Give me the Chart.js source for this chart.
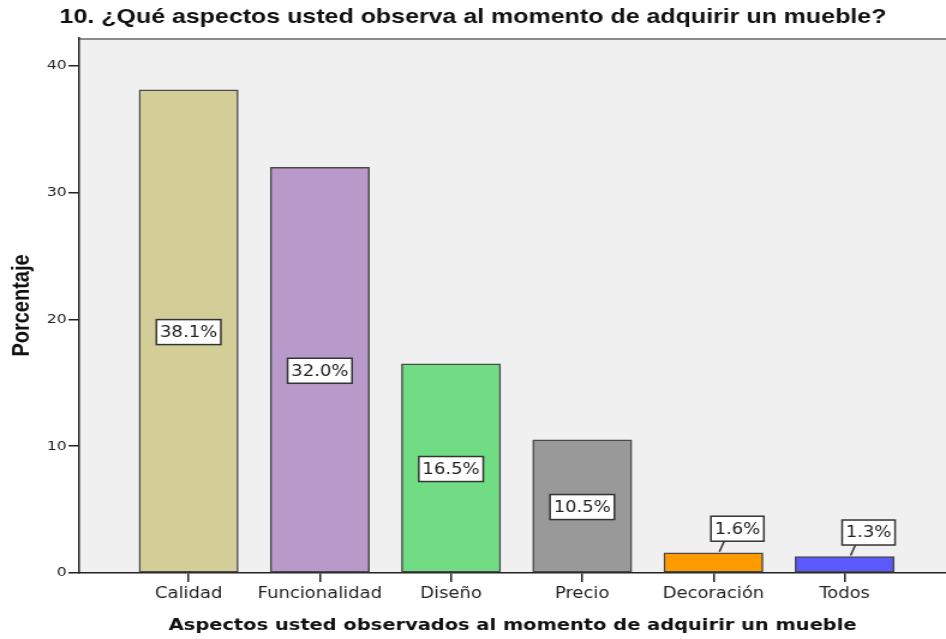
<!DOCTYPE html>
<html>
<head>
<meta charset="utf-8">
<script src="https://cdn.jsdelivr.net/npm/chart.js@4.4.1/dist/chart.umd.min.js"></script>
<style>
  html, body { margin: 0; padding: 0; background: #fff; overflow: hidden; }
  /* the source export is stretched horizontally by about 1.2, so draw narrow and stretch */
  #wrap { width: 788px; height: 639px; transform: scaleX(1.2005); transform-origin: 0 0; }
</style>
</head>
<body>
<div id="wrap"><canvas id="chart"></canvas></div>
<script>
// ---------- //
//  DATA      //
// ---------- //
var categories = ["Calidad", "Funcionalidad", "Diseño", "Precio", "Decoración", "Todos"];
var percentages = [38.1, 32.0, 16.5, 10.5, 1.6, 1.3];
var barLabels = ["38.1%", "32.0%", "16.5%", "10.5%", "1.6%", "1.3%"];
var barColors = ["#d3ce98", "#b899c9", "#70dc84", "#999999", "#ff9a00", "#5a5aff"];
var yTicks = [0, 10, 20, 30, 40];

// Plot background and grey top frame line (SPSS look)
var plotBackground = {
  id: "plotBackground",
  beforeDraw: function (chart) {
    var a = chart.chartArea;
    var ctx = chart.ctx;
    ctx.save();
    ctx.fillStyle = "#f0f0f0";
    ctx.fillRect(a.left, a.top, a.right - a.left, a.bottom - a.top);
    ctx.strokeStyle = "#8a8a8a";
    ctx.lineWidth = 2;
    ctx.beginPath();
    ctx.moveTo(a.left, a.top + 1);
    ctx.lineTo(a.right, a.top + 1);
    ctx.stroke();
    ctx.restore();
  }
};

// White boxed percentage labels; small bars get the box above with a leader line
var boxedLabels = {
  id: "boxedLabels",
  afterDatasetsDraw: function (chart) {
    var ctx = chart.ctx;
    var meta = chart.getDatasetMeta(0);
    ctx.save();
    ctx.font = "15px 'DejaVu Sans'";
    ctx.textAlign = "center";
    ctx.textBaseline = "middle";
    meta.data.forEach(function (bar, i) {
      var text = barLabels[i];
      var w = ctx.measureText(text).width + 6;
      var h = 25;
      var cx = bar.x, cy = (bar.y + bar.base) / 2 + 1;
      if (percentages[i] < 5) {
        cx = bar.x + 20;
        cy = bar.y - 24;
        ctx.strokeStyle = "#333";
        ctx.lineWidth = 1.5;
        ctx.beginPath();
        ctx.moveTo(bar.x + 5, bar.y - 1);
        ctx.lineTo(bar.x + 9, cy + h / 2);
        ctx.stroke();
      }
      ctx.fillStyle = "#fff";
      ctx.fillRect(cx - w / 2, cy - h / 2, w, h);
      ctx.strokeStyle = "#333";
      ctx.lineWidth = 1.5;
      ctx.strokeRect(cx - w / 2, cy - h / 2, w, h);
      ctx.fillStyle = "#222";
      ctx.fillText(text, cx, cy + 1);
    });
    ctx.restore();
  }
};

var ctx = document.getElementById("chart");
new Chart(ctx, {
  type: "bar",
  data: {
    datasets: [{
      label: "Porcentaje",
      data: percentages.map(function (v, i) { return { x: i, y: v }; }),
      backgroundColor: barColors,
      borderColor: "#4a4a4a",
      borderWidth: 1.5,
      borderSkipped: false,
      barThickness: 82.5
    }]
  },
  options: {
    responsive: true,
    maintainAspectRatio: false,
    animation: false,
    layout: { padding: 0 },
    plugins: {
      legend: { display: false },
      tooltip: { enabled: false },
      title: {
        display: true,
        text: "10. ¿Qué aspectos usted observa al momento de adquirir un mueble?",
        color: "#111",
        font: { family: "'Liberation Sans', Arial", size: 20.8, weight: "bold", lineHeight: 1.2 },
        padding: { top: 5, bottom: 8 }
      }
    },
    scales: {
      x: {
        type: "linear",
        offset: false,
        min: -0.834,
        max: 5.773,
        afterFit: function (s) { s.height = 66; },
        afterBuildTicks: function (s) {
          s.ticks = categories.map(function (c, i) { return { value: i }; });
        },
        ticks: {
          autoSkip: false,
          maxRotation: 0,
          padding: 3,
          color: "#222",
          font: { family: "'DejaVu Sans'", size: 15 },
          callback: function (v) { return categories[v]; }
        },
        grid: { offset: false, drawOnChartArea: false, drawTicks: true, tickLength: 9, color: "#222", lineWidth: 1.5 },
        border: { display: true, color: "#222", width: 1.5 },
        title: {
          display: true,
          text: "Aspectos usted observados al momento de adquirir un mueble",
          color: "#111",
          font: { family: "'DejaVu Sans'", size: 16.2, weight: "bold", lineHeight: 1.2 },
          padding: { top: 0, bottom: 3.3 }
        }
      },
      y: {
        min: 0,
        max: 42.2,
        afterFit: function (s) { s.width = 66; },
        afterBuildTicks: function (s) {
          s.ticks = yTicks.map(function (v) { return { value: v }; });
        },
        ticks: {
          padding: 1.5,
          color: "#222",
          font: { family: "'DejaVu Sans'", size: 13 }
        },
        grid: { drawOnChartArea: false, drawTicks: true, tickLength: 9, color: "#222", lineWidth: 1.5 },
        border: { display: true, color: "#222", width: 1.5 },
        title: {
          display: true,
          text: "Porcentaje",
          color: "#111",
          font: { family: "'Liberation Sans', Arial", size: 20, weight: "bold", lineHeight: 1.2 },
          padding: { top: 6, bottom: 0 }
        }
      }
    }
  },
  plugins: [plotBackground, boxedLabels]
});
</script>
</body>
</html>
